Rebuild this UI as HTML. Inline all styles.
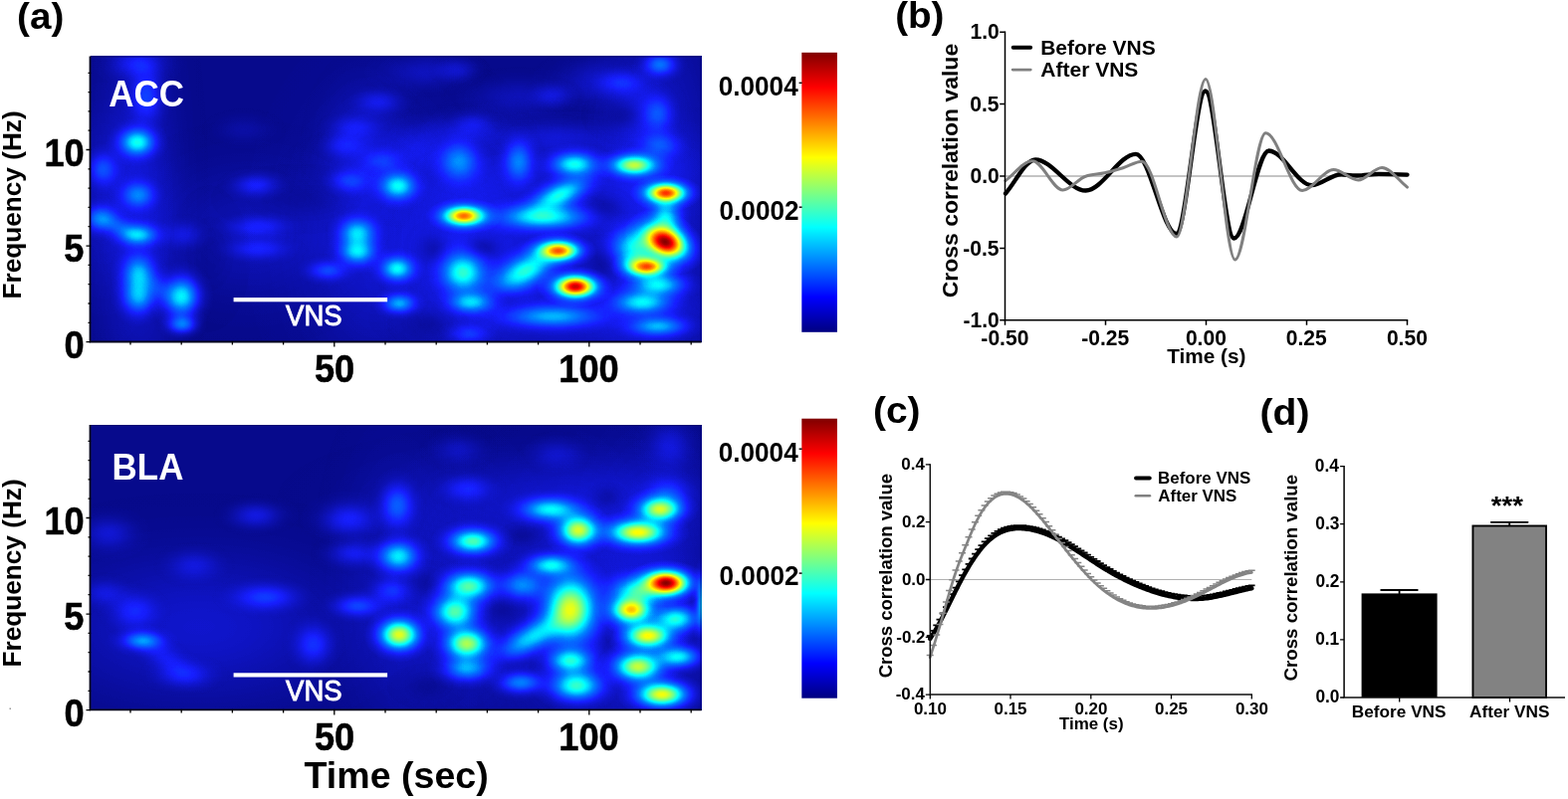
<!DOCTYPE html>
<html lang="en"><head><meta charset="utf-8"><title>Figure</title>
<style>
html,body{margin:0;padding:0;background:#fff;}
body{width:1575px;height:803px;overflow:hidden;}
svg{display:block;font-family:"Liberation Sans", Arial, Helvetica, sans-serif;font-weight:bold;}
</style></head><body>
<svg width="1575" height="803" viewBox="0 0 1575 803">
<defs>
<radialGradient id="gb" cx="0.5" cy="0.5" r="0.5"><stop offset="0.0000" stop-color="#fff" stop-opacity="1.0000"/><stop offset="0.0833" stop-color="#fff" stop-opacity="0.9692"/><stop offset="0.1667" stop-color="#fff" stop-opacity="0.8825"/><stop offset="0.2500" stop-color="#fff" stop-opacity="0.7548"/><stop offset="0.3333" stop-color="#fff" stop-opacity="0.6065"/><stop offset="0.4167" stop-color="#fff" stop-opacity="0.4578"/><stop offset="0.5000" stop-color="#fff" stop-opacity="0.3247"/><stop offset="0.5833" stop-color="#fff" stop-opacity="0.2163"/><stop offset="0.6667" stop-color="#fff" stop-opacity="0.1353"/><stop offset="0.7500" stop-color="#fff" stop-opacity="0.0796"/><stop offset="0.8333" stop-color="#fff" stop-opacity="0.0439"/><stop offset="0.9167" stop-color="#fff" stop-opacity="0.0228"/><stop offset="1.0000" stop-color="#fff" stop-opacity="0.0000"/></radialGradient>
<radialGradient id="gk" cx="0.5" cy="0.5" r="0.5"><stop offset="0.0000" stop-color="#000" stop-opacity="1.0000"/><stop offset="0.0833" stop-color="#000" stop-opacity="0.9692"/><stop offset="0.1667" stop-color="#000" stop-opacity="0.8825"/><stop offset="0.2500" stop-color="#000" stop-opacity="0.7548"/><stop offset="0.3333" stop-color="#000" stop-opacity="0.6065"/><stop offset="0.4167" stop-color="#000" stop-opacity="0.4578"/><stop offset="0.5000" stop-color="#000" stop-opacity="0.3247"/><stop offset="0.5833" stop-color="#000" stop-opacity="0.2163"/><stop offset="0.6667" stop-color="#000" stop-opacity="0.1353"/><stop offset="0.7500" stop-color="#000" stop-opacity="0.0796"/><stop offset="0.8333" stop-color="#000" stop-opacity="0.0439"/><stop offset="0.9167" stop-color="#000" stop-opacity="0.0228"/><stop offset="1.0000" stop-color="#000" stop-opacity="0.0000"/></radialGradient>
<linearGradient id="cbar" x1="0" y1="0" x2="0" y2="1">
<stop offset="0" stop-color="rgb(128,0,0)"/>
<stop offset="0.125" stop-color="rgb(255,0,0)"/>
<stop offset="0.375" stop-color="rgb(255,255,0)"/>
<stop offset="0.625" stop-color="rgb(0,255,255)"/>
<stop offset="0.875" stop-color="rgb(0,0,255)"/>
<stop offset="1" stop-color="rgb(0,0,128)"/>
</linearGradient>

<clipPath id="clip1"><rect x="91.1" y="56.4" width="613.5" height="287.2"/></clipPath>
<filter id="jet1" filterUnits="userSpaceOnUse" x="81.1" y="46.4" width="633.5" height="307.2" color-interpolation-filters="sRGB">
<feComponentTransfer>
<feFuncR type="table" tableValues="0.025 0.09 0 0 0.5 1 1 1 0.5"/>
<feFuncG type="table" tableValues="0.035 0.12 0.5 1 1 1 0.5 0 0"/>
<feFuncB type="table" tableValues="0.52 1 1 1 0.5 0 0 0 0"/>
</feComponentTransfer>
</filter>
<clipPath id="clip2"><rect x="91.1" y="427.0" width="613.5" height="286.4"/></clipPath>
<filter id="jet2" filterUnits="userSpaceOnUse" x="81.1" y="417.0" width="633.5" height="306.4" color-interpolation-filters="sRGB">
<feComponentTransfer>
<feFuncR type="table" tableValues="0.025 0.09 0 0 0.5 1 1 1 0.5"/>
<feFuncG type="table" tableValues="0.035 0.12 0.5 1 1 1 0.5 0 0"/>
<feFuncB type="table" tableValues="0.52 1 1 1 0.5 0 0 0 0"/>
</feComponentTransfer>
</filter>
</defs>
<rect width="1575" height="803" fill="#fff"/>
<text transform="translate(17.12 29.04) scale(1.030 1)" font-size="37.5">(a)</text>
<text transform="translate(899.13 27.61) scale(1.050 1)" font-size="36.8">(b)</text>
<text transform="translate(876.95 425.23) scale(1.060 1)" font-size="36.7">(c)</text>
<text transform="translate(1265.53 426.68) scale(1.060 1)" font-size="36.9">(d)</text>
<g clip-path="url(#clip1)"><g filter="url(#jet1)">
<rect x="71.1" y="36.4" width="653.5" height="327.2" fill="rgb(2,2,2)"/>
<ellipse cx="140" cy="215" rx="78" ry="360" fill="url(#gb)" opacity="0.07"/>
<ellipse cx="105" cy="200" rx="84" ry="180" fill="url(#gb)" opacity="0.04"/>
<ellipse cx="380" cy="235" rx="150" ry="240" fill="url(#gb)" opacity="0.07"/>
<ellipse cx="540" cy="260" rx="240" ry="180" fill="url(#gb)" opacity="0.07"/>
<ellipse cx="660" cy="200" rx="108" ry="360" fill="url(#gb)" opacity="0.08"/>
<ellipse cx="470" cy="250" rx="105" ry="210" fill="url(#gb)" opacity="0.06"/>
<ellipse cx="250" cy="235" rx="180" ry="135" fill="url(#gb)" opacity="0.05"/>
<ellipse cx="560" cy="170" rx="330" ry="84" fill="url(#gb)" opacity="0.05"/>
<ellipse cx="600" cy="320" rx="270" ry="75" fill="url(#gb)" opacity="0.05"/>
<ellipse cx="365" cy="150" rx="75" ry="120" fill="url(#gb)" opacity="0.05"/>
<ellipse cx="430" cy="72" rx="75" ry="30" fill="url(#gb)" opacity="0.05"/>
<ellipse cx="520" cy="98" rx="90" ry="36" fill="url(#gb)" opacity="0.05"/>
<ellipse cx="600" cy="82" rx="75" ry="42" fill="url(#gb)" opacity="0.06"/>
<ellipse cx="640" cy="112" rx="60" ry="54" fill="url(#gb)" opacity="0.06"/>
<ellipse cx="470" cy="132" rx="90" ry="30" fill="url(#gb)" opacity="0.05"/>
<ellipse cx="560" cy="137" rx="90" ry="30" fill="url(#gb)" opacity="0.05"/>
<ellipse cx="420" cy="150" rx="54" ry="42" fill="url(#gb)" opacity="0.05"/>
<ellipse cx="485" cy="249" rx="36" ry="24" fill="url(#gk)" opacity="0.6"/>
<ellipse cx="605" cy="210" rx="36" ry="24" fill="url(#gk)" opacity="0.55"/>
<ellipse cx="605" cy="265" rx="30" ry="30" fill="url(#gk)" opacity="0.55"/>
<ellipse cx="435" cy="250" rx="30" ry="30" fill="url(#gk)" opacity="0.5"/>
<ellipse cx="625" cy="116" rx="42" ry="30" fill="url(#gk)" opacity="0.6"/>
<ellipse cx="507" cy="297" rx="36" ry="24" fill="url(#gk)" opacity="0.5"/>
<ellipse cx="430" cy="326" rx="42" ry="24" fill="url(#gk)" opacity="0.5"/>
<ellipse cx="300" cy="200" rx="90" ry="36" fill="url(#gk)" opacity="0.4"/>
<ellipse cx="210" cy="260" rx="42" ry="75" fill="url(#gk)" opacity="0.4"/>
<ellipse cx="139" cy="64" rx="48" ry="27" fill="url(#gb)" opacity="0.1"/>
<ellipse cx="147" cy="96" rx="30" ry="48" fill="url(#gb)" opacity="0.13"/>
<ellipse cx="138" cy="143" rx="33" ry="25.5" fill="url(#gb)" opacity="0.35"/>
<ellipse cx="103" cy="170" rx="27" ry="30" fill="url(#gb)" opacity="0.14"/>
<ellipse cx="139" cy="196" rx="30" ry="24" fill="url(#gb)" opacity="0.19"/>
<ellipse cx="101" cy="220" rx="30" ry="24" fill="url(#gb)" opacity="0.2"/>
<ellipse cx="120" cy="228" rx="42" ry="18" fill="url(#gb)" opacity="0.1" transform="rotate(25 120 228)"/>
<ellipse cx="139" cy="236" rx="36" ry="19.5" fill="url(#gb)" opacity="0.27"/>
<ellipse cx="139" cy="275" rx="30" ry="36" fill="url(#gb)" opacity="0.25"/>
<ellipse cx="139" cy="298" rx="30" ry="33" fill="url(#gb)" opacity="0.25"/>
<ellipse cx="183" cy="298" rx="33" ry="37.5" fill="url(#gb)" opacity="0.35"/>
<ellipse cx="183" cy="326" rx="27" ry="18" fill="url(#gb)" opacity="0.22"/>
<ellipse cx="160" cy="290" rx="42" ry="24" fill="url(#gb)" opacity="0.08" transform="rotate(40 160 290)"/>
<ellipse cx="185" cy="236" rx="36" ry="24" fill="url(#gb)" opacity="0.06"/>
<ellipse cx="257" cy="186" rx="42" ry="21" fill="url(#gb)" opacity="0.1"/>
<ellipse cx="245" cy="130" rx="54" ry="27" fill="url(#gb)" opacity="0.03"/>
<ellipse cx="259" cy="228" rx="54" ry="19.5" fill="url(#gb)" opacity="0.085"/>
<ellipse cx="259" cy="250" rx="54" ry="19.5" fill="url(#gb)" opacity="0.085"/>
<ellipse cx="329" cy="272" rx="36" ry="18" fill="url(#gb)" opacity="0.13"/>
<ellipse cx="381" cy="102" rx="42" ry="21" fill="url(#gb)" opacity="0.07"/>
<ellipse cx="355" cy="128" rx="42" ry="21" fill="url(#gb)" opacity="0.06"/>
<ellipse cx="345" cy="146" rx="36" ry="21" fill="url(#gb)" opacity="0.07"/>
<ellipse cx="385" cy="162" rx="36" ry="21" fill="url(#gb)" opacity="0.08"/>
<ellipse cx="351" cy="182" rx="36" ry="21" fill="url(#gb)" opacity="0.1"/>
<ellipse cx="359" cy="234" rx="33" ry="27" fill="url(#gb)" opacity="0.29"/>
<ellipse cx="359" cy="253" rx="33" ry="24" fill="url(#gb)" opacity="0.3"/>
<ellipse cx="400" cy="187" rx="33" ry="25.5" fill="url(#gb)" opacity="0.33"/>
<ellipse cx="399" cy="270" rx="30" ry="22.5" fill="url(#gb)" opacity="0.33"/>
<ellipse cx="401" cy="305" rx="30" ry="18" fill="url(#gb)" opacity="0.25"/>
<ellipse cx="663" cy="65" rx="30" ry="21" fill="url(#gb)" opacity="0.2"/>
<ellipse cx="625" cy="83" rx="42" ry="21" fill="url(#gb)" opacity="0.08"/>
<ellipse cx="661" cy="114" rx="27" ry="33" fill="url(#gb)" opacity="0.12"/>
<ellipse cx="663" cy="146" rx="36" ry="24" fill="url(#gb)" opacity="0.12"/>
<ellipse cx="637" cy="166" rx="42" ry="19.5" fill="url(#gb)" opacity="0.52"/>
<ellipse cx="577" cy="165" rx="42" ry="22.5" fill="url(#gb)" opacity="0.35"/>
<ellipse cx="521" cy="162" rx="27" ry="39" fill="url(#gb)" opacity="0.2"/>
<ellipse cx="461" cy="162" rx="36" ry="36" fill="url(#gb)" opacity="0.21"/>
<ellipse cx="461" cy="70" rx="36" ry="21" fill="url(#gb)" opacity="0.05"/>
<ellipse cx="555" cy="96" rx="36" ry="21" fill="url(#gb)" opacity="0.06"/>
<ellipse cx="475" cy="124" rx="36" ry="21" fill="url(#gb)" opacity="0.05"/>
<ellipse cx="562" cy="196" rx="57" ry="24" fill="url(#gb)" opacity="0.35" transform="rotate(-25 562 196)"/>
<ellipse cx="669" cy="194" rx="37.5" ry="18.9" fill="url(#gb)" opacity="0.81"/>
<ellipse cx="466" cy="217" rx="39" ry="18.9" fill="url(#gb)" opacity="0.75"/>
<ellipse cx="547" cy="218" rx="81" ry="24" fill="url(#gb)" opacity="0.35"/>
<ellipse cx="561" cy="252" rx="39" ry="18.9" fill="url(#gb)" opacity="0.77"/>
<ellipse cx="528" cy="272" rx="66" ry="30" fill="url(#gb)" opacity="0.36" transform="rotate(-30 528 272)"/>
<ellipse cx="578" cy="288" rx="39" ry="21" fill="url(#gb)" opacity="0.93"/>
<ellipse cx="668" cy="243" rx="43.5" ry="30" fill="url(#gb)" opacity="1.0" transform="rotate(25 668 243)"/>
<ellipse cx="650" cy="268" rx="37.5" ry="18" fill="url(#gb)" opacity="0.77"/>
<ellipse cx="669" cy="218" rx="27" ry="36" fill="url(#gb)" opacity="0.27"/>
<ellipse cx="637" cy="248" rx="42" ry="36" fill="url(#gb)" opacity="0.3"/>
<ellipse cx="640" cy="264" rx="30" ry="24" fill="url(#gb)" opacity="0.15"/>
<ellipse cx="661" cy="286" rx="48" ry="21" fill="url(#gb)" opacity="0.31"/>
<ellipse cx="645" cy="304" rx="51" ry="21" fill="url(#gb)" opacity="0.3"/>
<ellipse cx="661" cy="328" rx="51" ry="18" fill="url(#gb)" opacity="0.24"/>
<ellipse cx="465" cy="274" rx="39" ry="36" fill="url(#gb)" opacity="0.35"/>
<ellipse cx="473" cy="304" rx="39" ry="19.5" fill="url(#gb)" opacity="0.27"/>
<ellipse cx="555" cy="318" rx="84" ry="21" fill="url(#gb)" opacity="0.24"/>
<ellipse cx="471" cy="336" rx="36" ry="18" fill="url(#gb)" opacity="0.1"/>
</g></g>
<rect x="91.1" y="56.4" width="613.5" height="1.2" fill="#00006a" opacity="0.7"/>
<rect x="703.4" y="56.4" width="1.2" height="287.2" fill="#00006a" opacity="0.6"/>
<path d="M90.5 56.4 V343.5 H704.6" fill="none" stroke="#00001c" stroke-width="1.8"/>
<path d="M86.5 343.6H91.1M88.5 324.3H91.1M88.5 305.0H91.1M88.5 285.7H91.1M88.5 266.4H91.1M86.5 247.1H91.1M88.5 227.7H91.1M88.5 208.4H91.1M88.5 189.1H91.1M88.5 169.8H91.1M86.5 150.5H91.1M88.5 131.2H91.1M88.5 111.9H91.1M88.5 92.6H91.1M88.5 73.3H91.1" stroke="#000" stroke-width="1.3" fill="none"/>
<path d="M131.0 343.1V346.6M182.2 343.1V346.6M233.4 343.1V346.6M284.6 343.1V346.6M335.8 343.1V348.6M387.0 343.1V346.6M438.2 343.1V346.6M489.4 343.1V346.6M540.6 343.1V346.6M591.8 343.1V348.6M643.0 343.1V346.6M694.2 343.1V346.6" stroke="#000" stroke-width="1.3" fill="none"/>
<text stroke="#000" stroke-width="0.55" transform="translate(64.6 359.79) scale(0.935 1)" font-size="38.7">0</text>
<text stroke="#000" stroke-width="0.55" transform="translate(64.24 263.04) scale(0.935 1)" font-size="38.7">5</text>
<text stroke="#000" stroke-width="0.55" transform="translate(44.46 166.69) scale(0.935 1)" font-size="38.7">10</text>
<text stroke="#000" stroke-width="0.55" transform="translate(315.89 383.79) scale(0.935 1)" font-size="38.7">50</text>
<text stroke="#000" stroke-width="0.55" transform="translate(561.31 383.79) scale(0.935 1)" font-size="38.7">100</text>
<text transform="translate(21.45 300.54) rotate(-90) scale(1.000 1)" font-size="26.2">Frequency (Hz)</text>
<text transform="translate(109.29 106.52) scale(0.955 1)" font-size="36.6" fill="#fff">ACC</text>
<rect x="234.6" y="299.1" width="154.5" height="4.2" fill="#fff"/>
<text stroke="#fff" stroke-width="0.9" transform="translate(287.12 327.01) scale(0.950 1)" font-size="29" fill="#fff" font-weight="normal">VNS</text>
<rect x="805.3" y="52.8" width="35.6" height="281" fill="url(#cbar)"/>
<rect x="802.6" y="82.6" width="3" height="1.4" fill="#000"/>
<text transform="translate(721.66 95.61) scale(0.935 1)" font-size="28">0.0004</text>
<rect x="802.6" y="207.5" width="3" height="1.4" fill="#000"/>
<text transform="translate(722.54 220.51) scale(0.935 1)" font-size="28">0.0002</text>
<g clip-path="url(#clip2)"><g filter="url(#jet2)">
<rect x="71.1" y="407.0" width="653.5" height="326.4" fill="rgb(2,2,2)"/>
<ellipse cx="400" cy="600" rx="105" ry="270" fill="url(#gb)" opacity="0.05"/>
<ellipse cx="470" cy="610" rx="108" ry="210" fill="url(#gb)" opacity="0.06"/>
<ellipse cx="570" cy="610" rx="135" ry="240" fill="url(#gb)" opacity="0.07"/>
<ellipse cx="655" cy="610" rx="120" ry="270" fill="url(#gb)" opacity="0.08"/>
<ellipse cx="200" cy="630" rx="300" ry="150" fill="url(#gb)" opacity="0.07"/>
<ellipse cx="560" cy="500" rx="330" ry="90" fill="url(#gb)" opacity="0.05"/>
<ellipse cx="525" cy="538" rx="36" ry="21" fill="url(#gk)" opacity="0.6"/>
<ellipse cx="505" cy="614" rx="36" ry="24" fill="url(#gk)" opacity="0.55"/>
<ellipse cx="429" cy="586" rx="30" ry="24" fill="url(#gk)" opacity="0.5"/>
<ellipse cx="611" cy="642" rx="24" ry="30" fill="url(#gk)" opacity="0.5"/>
<ellipse cx="430" cy="690" rx="42" ry="24" fill="url(#gk)" opacity="0.5"/>
<ellipse cx="610" cy="500" rx="30" ry="24" fill="url(#gk)" opacity="0.5"/>
<ellipse cx="510" cy="665" rx="30" ry="21" fill="url(#gk)" opacity="0.45"/>
<ellipse cx="257" cy="518" rx="47.04" ry="23.52" fill="url(#gb)" opacity="0.09"/>
<ellipse cx="349" cy="522" rx="50.4" ry="30.24" fill="url(#gb)" opacity="0.11"/>
<ellipse cx="109" cy="536" rx="47.04" ry="30.24" fill="url(#gb)" opacity="0.07"/>
<ellipse cx="195" cy="568" rx="47.04" ry="26.88" fill="url(#gb)" opacity="0.06"/>
<ellipse cx="355" cy="556" rx="47.04" ry="23.52" fill="url(#gb)" opacity="0.09"/>
<ellipse cx="143" cy="644" rx="36.96" ry="16.8" fill="url(#gb)" opacity="0.22"/>
<ellipse cx="135" cy="614" rx="40.32" ry="30.24" fill="url(#gb)" opacity="0.09"/>
<ellipse cx="267" cy="600" rx="57.12" ry="23.52" fill="url(#gb)" opacity="0.12"/>
<ellipse cx="359" cy="609" rx="43.68" ry="20.16" fill="url(#gb)" opacity="0.14"/>
<ellipse cx="315" cy="648" rx="33.6" ry="36.96" fill="url(#gb)" opacity="0.12"/>
<ellipse cx="185" cy="678" rx="50.4" ry="23.52" fill="url(#gb)" opacity="0.08"/>
<ellipse cx="165" cy="660" rx="63.84" ry="23.52" fill="url(#gb)" opacity="0.06" transform="rotate(35 165 660)"/>
<ellipse cx="105" cy="596" rx="40.32" ry="23.52" fill="url(#gb)" opacity="0.06"/>
<ellipse cx="393" cy="594" rx="33.6" ry="23.52" fill="url(#gb)" opacity="0.1"/>
<ellipse cx="399" cy="508" rx="30.24" ry="40.32" fill="url(#gb)" opacity="0.17"/>
<ellipse cx="400" cy="559" rx="36.96" ry="28.56" fill="url(#gb)" opacity="0.33"/>
<ellipse cx="401" cy="638" rx="36.96" ry="28.56" fill="url(#gb)" opacity="0.58"/>
<ellipse cx="475" cy="544" rx="43.68" ry="23.52" fill="url(#gb)" opacity="0.42"/>
<ellipse cx="469" cy="491" rx="43.68" ry="23.52" fill="url(#gb)" opacity="0.09"/>
<ellipse cx="461" cy="452" rx="47.04" ry="26.88" fill="url(#gb)" opacity="0.05"/>
<ellipse cx="471" cy="589" rx="45.36" ry="26.88" fill="url(#gb)" opacity="0.42"/>
<ellipse cx="457" cy="615" rx="40.32" ry="31.92" fill="url(#gb)" opacity="0.42"/>
<ellipse cx="469" cy="647" rx="40.32" ry="28.56" fill="url(#gb)" opacity="0.52"/>
<ellipse cx="469" cy="672" rx="43.68" ry="23.52" fill="url(#gb)" opacity="0.26"/>
<ellipse cx="559" cy="456" rx="47.04" ry="26.88" fill="url(#gb)" opacity="0.05"/>
<ellipse cx="553" cy="512" rx="53.76" ry="21.84" fill="url(#gb)" opacity="0.33"/>
<ellipse cx="581" cy="533" rx="36.96" ry="28.56" fill="url(#gb)" opacity="0.56"/>
<ellipse cx="553" cy="568" rx="43.68" ry="20.16" fill="url(#gb)" opacity="0.33"/>
<ellipse cx="525" cy="588" rx="40.32" ry="26.88" fill="url(#gb)" opacity="0.22"/>
<ellipse cx="573" cy="612" rx="47.04" ry="60.48" fill="url(#gb)" opacity="0.56"/>
<ellipse cx="535" cy="640" rx="73.92" ry="26.88" fill="url(#gb)" opacity="0.3" transform="rotate(-30 535 640)"/>
<ellipse cx="573" cy="664" rx="40.32" ry="23.52" fill="url(#gb)" opacity="0.36"/>
<ellipse cx="579" cy="689" rx="47.04" ry="28.56" fill="url(#gb)" opacity="0.4"/>
<ellipse cx="523" cy="686" rx="40.32" ry="20.16" fill="url(#gb)" opacity="0.22"/>
<ellipse cx="673" cy="448" rx="40.32" ry="43.68" fill="url(#gb)" opacity="0.07"/>
<ellipse cx="671" cy="496" rx="40.32" ry="30.24" fill="url(#gb)" opacity="0.12"/>
<ellipse cx="663" cy="512" rx="40.32" ry="23.52" fill="url(#gb)" opacity="0.55"/>
<ellipse cx="641" cy="535" rx="53.76" ry="23.52" fill="url(#gb)" opacity="0.6"/>
<ellipse cx="669" cy="586" rx="42" ry="23.52" fill="url(#gb)" opacity="1.0"/>
<ellipse cx="640" cy="594" rx="47.04" ry="26.88" fill="url(#gb)" opacity="0.33"/>
<ellipse cx="634" cy="613" rx="36.96" ry="25.2" fill="url(#gb)" opacity="0.65"/>
<ellipse cx="651" cy="639" rx="43.68" ry="23.52" fill="url(#gb)" opacity="0.6"/>
<ellipse cx="679" cy="622" rx="40.32" ry="23.52" fill="url(#gb)" opacity="0.36"/>
<ellipse cx="681" cy="660" rx="40.32" ry="20.16" fill="url(#gb)" opacity="0.34"/>
<ellipse cx="641" cy="670" rx="43.68" ry="26.88" fill="url(#gb)" opacity="0.54"/>
<ellipse cx="665" cy="698" rx="47.04" ry="23.52" fill="url(#gb)" opacity="0.6"/>
<ellipse cx="706" cy="606" rx="11.76" ry="50.4" fill="url(#gb)" opacity="0.33"/>
</g></g>
<rect x="91.1" y="427.0" width="613.5" height="1.2" fill="#00006a" opacity="0.7"/>
<rect x="703.4" y="427.0" width="1.2" height="286.4" fill="#00006a" opacity="0.6"/>
<path d="M90.5 427.0 V713.3 H704.6" fill="none" stroke="#00001c" stroke-width="1.8"/>
<path d="M86.5 713.6H91.1M88.5 694.3H91.1M88.5 675.0H91.1M88.5 655.7H91.1M88.5 636.4H91.1M86.5 617.1H91.1M88.5 597.7H91.1M88.5 578.4H91.1M88.5 559.1H91.1M88.5 539.8H91.1M86.5 520.5H91.1M88.5 501.2H91.1M88.5 481.9H91.1M88.5 462.6H91.1M88.5 443.3H91.1" stroke="#000" stroke-width="1.3" fill="none"/>
<path d="M131.0 712.9V716.4M182.2 712.9V716.4M233.4 712.9V716.4M284.6 712.9V716.4M335.8 712.9V718.4M387.0 712.9V716.4M438.2 712.9V716.4M489.4 712.9V716.4M540.6 712.9V716.4M591.8 712.9V718.4M643.0 712.9V716.4M694.2 712.9V716.4" stroke="#000" stroke-width="1.3" fill="none"/>
<text stroke="#000" stroke-width="0.55" transform="translate(64.6 729.79) scale(0.935 1)" font-size="38.7">0</text>
<text stroke="#000" stroke-width="0.55" transform="translate(64.24 633.04) scale(0.935 1)" font-size="38.7">5</text>
<text stroke="#000" stroke-width="0.55" transform="translate(44.46 536.69) scale(0.935 1)" font-size="38.7">10</text>
<text stroke="#000" stroke-width="0.55" transform="translate(315.89 753.79) scale(0.935 1)" font-size="38.7">50</text>
<text stroke="#000" stroke-width="0.55" transform="translate(561.31 753.79) scale(0.935 1)" font-size="38.7">100</text>
<text transform="translate(21.45 670.54) rotate(-90) scale(1.000 1)" font-size="26.2">Frequency (Hz)</text>
<text transform="translate(112.61 481.52) scale(0.955 1)" font-size="36.6" fill="#fff">BLA</text>
<rect x="234.6" y="676.3" width="154.5" height="4.2" fill="#fff"/>
<text stroke="#fff" stroke-width="0.9" transform="translate(287.12 704.21) scale(0.950 1)" font-size="29" fill="#fff" font-weight="normal">VNS</text>
<rect x="805.3" y="420.7" width="35.6" height="281.0" fill="url(#cbar)"/>
<rect x="802.6" y="450.5" width="3" height="1.4" fill="#000"/>
<text transform="translate(721.66 463.51) scale(0.935 1)" font-size="28">0.0004</text>
<rect x="802.6" y="575.4" width="3" height="1.4" fill="#000"/>
<text transform="translate(722.54 588.41) scale(0.935 1)" font-size="28">0.0002</text>
<text x="305.52" y="792.11" font-size="37.6">Time (sec)</text>
<rect x="9.5" y="711.5" width="1.5" height="1.5" fill="#999"/>
<path d="M1009.5 177.0H1413.5" stroke="#b0b0b0" stroke-width="1.3" fill="none"/>
<path d="M1010.0 194.5C1020.0 183.2 1030.0 160.5 1040.0 160.5C1056.8 160.5 1073.7 191.5 1090.5 191.5C1107.3 191.5 1124.2 154.8 1141.0 154.8C1154.5 154.8 1168.1 234.8 1181.6 234.8C1191.3 234.8 1201.1 91.5 1210.8 91.5C1220.4 91.5 1229.9 239.5 1239.5 239.5C1251.2 239.5 1262.8 151.5 1274.5 151.5C1288.9 151.5 1303.2 186.2 1317.6 186.2C1327.7 186.2 1337.9 174.5 1348.0 175.3C1353.0 175.7 1358.0 176.5 1363.0 176.5C1370.3 176.5 1377.7 174.8 1385.0 174.8C1394.5 174.8 1404.0 175.1 1413.5 175.6" stroke="#000" stroke-width="4.3" fill="none" stroke-linecap="round" stroke-linejoin="round"/>
<path d="M1010.0 181.6C1019.0 175.0 1028.0 161.8 1037.0 161.8C1047.2 161.8 1057.4 191.0 1067.6 191.0C1075.2 191.0 1082.9 179.5 1090.5 177.2C1096.8 175.3 1103.2 175.2 1109.5 173.8C1115.9 172.4 1122.2 170.4 1128.6 168.5C1134.7 166.7 1140.9 162.2 1147.0 162.2C1158.7 162.2 1170.3 238.0 1182.0 238.0C1191.7 238.0 1201.3 79.5 1211.0 79.5C1220.8 79.5 1230.7 261.0 1240.5 261.0C1250.8 261.0 1261.0 133.8 1271.3 133.8C1283.6 133.8 1295.8 191.4 1308.1 191.4C1318.6 191.4 1329.0 170.6 1339.5 170.6C1347.8 170.6 1356.0 181.0 1364.3 181.0C1372.2 181.0 1380.2 168.5 1388.1 168.5C1396.6 168.5 1405.0 181.6 1413.5 188.1" stroke="#808080" stroke-width="3" fill="none" stroke-linecap="round" stroke-linejoin="round"/>
<path d="M1009.5 31.49999999999999V321.8H1414.2" stroke="#000" stroke-width="1.5" fill="none"/>
<path d="M1004.2 32.2H1009.5M1004.2 104.6H1009.5M1004.2 177.0H1009.5M1004.2 249.4H1009.5M1004.2 321.8H1009.5M1009.5 321.8V326.8M1110.5 321.8V326.8M1211.5 321.8V326.8M1312.5 321.8V326.8M1413.5 321.8V326.8" stroke="#000" stroke-width="1.5" fill="none"/>
<text transform="translate(974.43 39.31) scale(0.990 1)" font-size="21.3">1.0</text>
<text transform="translate(974.22 111.71) scale(0.990 1)" font-size="21.3">0.5</text>
<text transform="translate(974.43 184.11) scale(0.990 1)" font-size="21.3">0.0</text>
<text transform="translate(967.19 256.51) scale(0.990 1)" font-size="21.3">-0.5</text>
<text transform="translate(967.4 328.91) scale(0.990 1)" font-size="21.3">-1.0</text>
<text transform="translate(985.36 346.71) scale(0.990 1)" font-size="21.3">-0.50</text>
<text transform="translate(1086.26 346.71) scale(0.990 1)" font-size="21.3">-0.25</text>
<text transform="translate(1190.88 346.71) scale(0.990 1)" font-size="21.3">0.00</text>
<text transform="translate(1291.77 346.71) scale(0.990 1)" font-size="21.3">0.25</text>
<text transform="translate(1392.88 346.71) scale(0.990 1)" font-size="21.3">0.50</text>
<text transform="translate(1172.19 364.93) scale(0.990 1)" font-size="21">Time (s)</text>
<text transform="translate(961.9 299.36) rotate(-90) scale(1.045 1)" font-size="22">Cross correlation value</text>
<path d="M1017.7 47.7H1035.1" stroke="#000" stroke-width="4" stroke-linecap="round" fill="none"/>
<path d="M1017.2 70.1H1035.2" stroke="#808080" stroke-width="2.9" stroke-linecap="round" fill="none"/>
<text x="1045.2" y="54.99" font-size="21">Before VNS</text>
<text x="1045.34" y="77.44" font-size="21">After VNS</text>
<path d="M934.3 582.5H1257.3" stroke="#b0b0b0" stroke-width="1.2" fill="none"/>
<path d="M934.2 642.0V639.0M930.8 639.0H937.6M937.4 636.9V633.9M934.0 633.9H940.8M940.7 631.4V628.4M937.3 628.4H944.1M943.9 625.6V622.6M940.5 622.6H947.3M947.1 619.5V616.5M943.7 616.5H950.5M950.4 613.2V610.2M947.0 610.2H953.8M953.6 606.7V603.7M950.2 603.7H957.0M956.8 600.1V597.1M953.4 597.1H960.2M960.0 593.6V590.6M956.6 590.6H963.4M963.3 587.3V584.3M959.9 584.3H966.7M966.5 581.1V578.1M963.1 578.1H969.9M969.7 575.3V572.3M966.3 572.3H973.1M973.0 569.8V566.8M969.6 566.8H976.4M976.2 564.5V561.5M972.8 561.5H979.6M979.4 559.7V556.7M976.0 556.7H982.8M982.7 555.2V552.2M979.3 552.2H986.1M985.9 551.1V548.1M982.5 548.1H989.3M989.1 547.4V544.4M985.7 544.4H992.5M992.3 544.1V541.1M988.9 541.1H995.7M995.6 541.3V538.3M992.2 538.3H999.0M998.8 538.8V535.8M995.4 535.8H1002.2M1002.0 536.8V533.8M998.6 533.8H1005.4M1005.3 535.1V532.1M1001.9 532.1H1008.7M1008.5 533.7V530.7M1005.1 530.7H1011.9M1011.7 532.6V529.6M1008.3 529.6H1015.1M1015.0 531.9V528.9M1011.6 528.9H1018.4M1018.2 531.4V528.4M1014.8 528.4H1021.6M1021.4 531.1V528.1M1018.0 528.1H1024.8M1024.6 531.1V528.1M1021.2 528.1H1028.0M1027.9 531.2V528.2M1024.5 528.2H1031.3M1031.1 531.6V528.6M1027.7 528.6H1034.5M1034.3 532.1V529.1M1030.9 529.1H1037.7M1037.6 532.7V529.7M1034.2 529.7H1041.0M1040.8 533.5V530.5M1037.4 530.5H1044.2M1044.0 534.5V531.5M1040.6 531.5H1047.4M1047.3 535.5V532.5M1043.9 532.5H1050.7M1050.5 536.7V533.7M1047.1 533.7H1053.9M1053.7 538.0V535.0M1050.3 535.0H1057.1M1056.9 539.4V536.4M1053.5 536.4H1060.3M1060.2 541.0V538.0M1056.8 538.0H1063.6M1063.4 542.6V539.6M1060.0 539.6H1066.8M1066.6 544.4V541.4M1063.2 541.4H1070.0M1069.9 546.2V543.2M1066.5 543.2H1073.3M1073.1 548.2V545.2M1069.7 545.2H1076.5M1076.3 550.2V547.2M1072.9 547.2H1079.7M1079.6 552.2V549.2M1076.2 549.2H1083.0M1082.8 554.3V551.3M1079.4 551.3H1086.2M1086.0 556.4V553.4M1082.6 553.4H1089.4M1089.2 558.5V555.5M1085.8 555.5H1092.6M1092.5 560.7V557.7M1089.1 557.7H1095.9M1095.7 562.8V559.8M1092.3 559.8H1099.1M1098.9 564.9V561.9M1095.5 561.9H1102.3M1102.2 567.0V564.0M1098.8 564.0H1105.6M1105.4 569.1V566.1M1102.0 566.1H1108.8M1108.6 571.1V568.1M1105.2 568.1H1112.0M1111.9 573.1V570.1M1108.5 570.1H1115.3M1115.1 575.0V572.0M1111.7 572.0H1118.5M1118.3 576.8V573.8M1114.9 573.8H1121.7M1121.5 578.6V575.6M1118.1 575.6H1124.9M1124.8 580.3V577.3M1121.4 577.3H1128.2M1128.0 582.0V579.0M1124.6 579.0H1131.4M1131.2 583.6V580.6M1127.8 580.6H1134.6M1134.5 585.1V582.1M1131.1 582.1H1137.9M1137.7 586.6V583.6M1134.3 583.6H1141.1M1140.9 588.0V585.0M1137.5 585.0H1144.3M1144.2 589.4V586.4M1140.8 586.4H1147.6M1147.4 590.7V587.7M1144.0 587.7H1150.8M1150.6 591.9V588.9M1147.2 588.9H1154.0M1153.8 593.1V590.1M1150.4 590.1H1157.2M1157.1 594.3V591.3M1153.7 591.3H1160.5M1160.3 595.3V592.3M1156.9 592.3H1163.7M1163.5 596.3V593.3M1160.1 593.3H1166.9M1166.8 597.2V594.2M1163.4 594.2H1170.2M1170.0 598.1V595.1M1166.6 595.1H1173.4M1173.2 598.9V595.9M1169.8 595.9H1176.6M1176.5 599.6V596.6M1173.1 596.6H1179.9M1179.7 600.2V597.2M1176.3 597.2H1183.1M1182.9 600.7V597.7M1179.5 597.7H1186.3M1186.1 601.1V598.1M1182.7 598.1H1189.5M1189.4 601.5V598.5M1186.0 598.5H1192.8M1192.6 601.8V598.8M1189.2 598.8H1196.0M1195.8 601.9V598.9M1192.4 598.9H1199.2M1199.1 602.0V599.0M1195.7 599.0H1202.5M1202.3 602.0V599.0M1198.9 599.0H1205.7M1205.5 601.8V598.8M1202.1 598.8H1208.9M1208.8 601.6V598.6M1205.4 598.6H1212.2M1212.0 601.3V598.3M1208.6 598.3H1215.4M1215.2 600.8V597.8M1211.8 597.8H1218.6M1218.4 600.3V597.3M1215.0 597.3H1221.8M1221.7 599.7V596.7M1218.3 596.7H1225.1M1224.9 599.0V596.0M1221.5 596.0H1228.3M1228.1 598.3V595.3M1224.7 595.3H1231.5M1231.4 597.5V594.5M1228.0 594.5H1234.8M1234.6 596.7V593.7M1231.2 593.7H1238.0M1237.8 595.9V592.9M1234.4 592.9H1241.2M1241.1 595.0V592.0M1237.7 592.0H1244.5M1244.3 594.2V591.2M1240.9 591.2H1247.7M1247.5 593.4V590.4M1244.1 590.4H1250.9M1250.7 592.7V589.7M1247.3 589.7H1254.1M1254.0 592.0V589.0M1250.6 589.0H1257.4M1257.2 591.3V588.3M1253.8 588.3H1260.6" stroke="#000" stroke-width="1.8" fill="none"/><path d="M934.2 642.0 L935.8 639.5 L937.4 636.9 L939.0 634.3 L940.6 631.5 L942.2 628.7 L943.8 625.8 L945.4 622.8 L947.0 619.7 L948.6 616.6 L950.2 613.5 L951.8 610.3 L953.4 607.0 L955.0 603.8 L956.6 600.6 L958.2 597.3 L959.8 594.1 L961.4 590.9 L963.0 587.8 L964.6 584.7 L966.2 581.7 L967.8 578.8 L969.4 575.9 L971.0 573.1 L972.6 570.4 L974.2 567.7 L975.8 565.1 L977.4 562.7 L979.0 560.3 L980.6 558.0 L982.2 555.8 L983.8 553.7 L985.4 551.7 L987.0 549.7 L988.6 547.9 L990.2 546.2 L991.8 544.6 L993.4 543.1 L995.0 541.8 L996.6 540.5 L998.2 539.3 L999.8 538.2 L1001.4 537.2 L1003.0 536.2 L1004.6 535.4 L1006.2 534.6 L1007.8 534.0 L1009.4 533.4 L1011.0 532.8 L1012.6 532.4 L1014.2 532.0 L1015.8 531.7 L1017.4 531.5 L1019.0 531.3 L1020.6 531.1 L1022.2 531.1 L1023.8 531.1 L1025.4 531.1 L1027.0 531.2 L1028.6 531.3 L1030.2 531.5 L1031.8 531.7 L1033.4 531.9 L1035.0 532.2 L1036.6 532.5 L1038.2 532.9 L1039.8 533.3 L1041.4 533.7 L1043.0 534.2 L1044.6 534.6 L1046.2 535.2 L1047.8 535.7 L1049.4 536.3 L1051.0 536.9 L1052.6 537.5 L1054.2 538.2 L1055.8 538.9 L1057.4 539.7 L1059.0 540.4 L1060.6 541.2 L1062.2 542.0 L1063.8 542.9 L1065.4 543.7 L1067.0 544.6 L1068.6 545.5 L1070.2 546.4 L1071.8 547.4 L1073.4 548.4 L1075.0 549.3 L1076.6 550.3 L1078.2 551.3 L1079.8 552.3 L1081.4 553.4 L1083.0 554.4 L1084.6 555.5 L1086.2 556.5 L1087.8 557.6 L1089.4 558.6 L1091.0 559.7 L1092.6 560.7 L1094.2 561.8 L1095.8 562.9 L1097.4 563.9 L1099.0 565.0 L1100.6 566.0 L1102.2 567.1 L1103.8 568.1 L1105.4 569.1 L1107.0 570.1 L1108.6 571.1 L1110.2 572.1 L1111.8 573.0 L1113.4 574.0 L1115.0 574.9 L1116.6 575.9 L1118.2 576.8 L1119.8 577.7 L1121.4 578.5 L1123.0 579.4 L1124.6 580.2 L1126.2 581.1 L1127.8 581.9 L1129.4 582.7 L1131.0 583.5 L1132.6 584.2 L1134.2 585.0 L1135.8 585.7 L1137.4 586.5 L1139.0 587.2 L1140.6 587.9 L1142.2 588.6 L1143.8 589.2 L1145.4 589.9 L1147.0 590.5 L1148.6 591.2 L1150.2 591.8 L1151.8 592.4 L1153.4 593.0 L1155.0 593.5 L1156.6 594.1 L1158.2 594.6 L1159.8 595.2 L1161.4 595.7 L1163.0 596.1 L1164.6 596.6 L1166.2 597.1 L1167.8 597.5 L1169.4 597.9 L1171.0 598.3 L1172.6 598.7 L1174.2 599.1 L1175.8 599.4 L1177.4 599.7 L1179.0 600.0 L1180.6 600.3 L1182.2 600.6 L1183.8 600.8 L1185.4 601.0 L1187.0 601.2 L1188.6 601.4 L1190.2 601.6 L1191.8 601.7 L1193.4 601.8 L1195.0 601.9 L1196.6 602.0 L1198.2 602.0 L1199.8 602.0 L1201.4 602.0 L1203.0 602.0 L1204.6 601.9 L1206.2 601.8 L1207.8 601.7 L1209.4 601.5 L1211.0 601.4 L1212.6 601.2 L1214.2 601.0 L1215.8 600.7 L1217.4 600.5 L1219.0 600.2 L1220.6 599.9 L1222.2 599.6 L1223.8 599.2 L1225.4 598.9 L1227.0 598.5 L1228.6 598.1 L1230.2 597.8 L1231.8 597.4 L1233.4 597.0 L1235.0 596.6 L1236.6 596.2 L1238.2 595.8 L1239.8 595.4 L1241.4 595.0 L1243.0 594.6 L1244.6 594.2 L1246.2 593.8 L1247.8 593.4 L1249.4 593.0 L1251.0 592.6 L1252.6 592.3 L1254.2 591.9 L1255.8 591.6 L1257.4 591.3" stroke="#000" stroke-width="4.4" fill="none" stroke-linecap="round" stroke-linejoin="round"/>
<path d="M934.2 660.7V658.6M930.7 658.6H937.7M937.4 650.6V648.5M933.9 648.5H940.9M940.7 640.2V638.1M937.2 638.1H944.2M943.9 629.5V627.4M940.4 627.4H947.4M947.1 618.4V616.3M943.6 616.3H950.6M950.4 607.0V604.9M946.9 604.9H953.9M953.6 595.7V593.6M950.1 593.6H957.1M956.8 584.9V582.8M953.3 582.8H960.3M960.0 575.0V572.9M956.5 572.9H963.5M963.3 566.0V563.9M959.8 563.9H966.8M966.5 557.8V555.7M963.0 555.7H970.0M969.7 549.8V547.7M966.2 547.7H973.2M973.0 541.8V539.7M969.5 539.7H976.5M976.2 534.1V532.0M972.7 532.0H979.7M979.4 526.9V524.8M975.9 524.8H982.9M982.7 520.4V518.3M979.2 518.3H986.2M985.9 514.8V512.7M982.4 512.7H989.4M989.1 510.0V507.9M985.6 507.9H992.6M992.3 506.0V503.9M988.8 503.9H995.8M995.6 502.8V500.7M992.1 500.7H999.1M998.8 500.2V498.1M995.3 498.1H1002.3M1002.0 498.3V496.2M998.5 496.2H1005.5M1005.3 497.1V495.0M1001.8 495.0H1008.8M1008.5 496.4V494.3M1005.0 494.3H1012.0M1011.7 496.3V494.2M1008.2 494.2H1015.2M1015.0 496.8V494.7M1011.5 494.7H1018.5M1018.2 497.7V495.6M1014.7 495.6H1021.7M1021.4 499.1V497.0M1017.9 497.0H1024.9M1024.6 501.0V498.9M1021.1 498.9H1028.1M1027.9 503.2V501.1M1024.4 501.1H1031.4M1031.1 505.8V503.7M1027.6 503.7H1034.6M1034.3 508.7V506.6M1030.8 506.6H1037.8M1037.6 511.8V509.7M1034.1 509.7H1041.1M1040.8 515.3V513.2M1037.3 513.2H1044.3M1044.0 518.9V516.8M1040.5 516.8H1047.5M1047.3 522.8V520.7M1043.8 520.7H1050.8M1050.5 526.7V524.6M1047.0 524.6H1054.0M1053.7 530.8V528.7M1050.2 528.7H1057.2M1056.9 534.9V532.8M1053.4 532.8H1060.4M1060.2 539.1V537.0M1056.7 537.0H1063.7M1063.4 543.3V541.2M1059.9 541.2H1066.9M1066.6 547.5V545.4M1063.1 545.4H1070.1M1069.9 551.6V549.5M1066.4 549.5H1073.4M1073.1 555.7V553.6M1069.6 553.6H1076.6M1076.3 559.8V557.7M1072.8 557.7H1079.8M1079.6 563.7V561.6M1076.1 561.6H1083.1M1082.8 567.6V565.5M1079.3 565.5H1086.3M1086.0 571.3V569.2M1082.5 569.2H1089.5M1089.2 575.0V572.9M1085.7 572.9H1092.7M1092.5 578.5V576.4M1089.0 576.4H1096.0M1095.7 581.8V579.7M1092.2 579.7H1099.2M1098.9 585.0V582.9M1095.4 582.9H1102.4M1102.2 588.0V585.9M1098.7 585.9H1105.7M1105.4 590.8V588.7M1101.9 588.7H1108.9M1108.6 593.4V591.3M1105.1 591.3H1112.1M1111.9 595.9V593.8M1108.4 593.8H1115.4M1115.1 598.1V596.0M1111.6 596.0H1118.6M1118.3 600.2V598.1M1114.8 598.1H1121.8M1121.5 602.1V600.0M1118.0 600.0H1125.0M1124.8 603.9V601.8M1121.3 601.8H1128.3M1128.0 605.4V603.3M1124.5 603.3H1131.5M1131.2 606.8V604.7M1127.7 604.7H1134.7M1134.5 608.0V605.9M1131.0 605.9H1138.0M1137.7 609.0V606.9M1134.2 606.9H1141.2M1140.9 609.8V607.7M1137.4 607.7H1144.4M1144.2 610.4V608.3M1140.7 608.3H1147.7M1147.4 610.9V608.8M1143.9 608.8H1150.9M1150.6 611.3V609.2M1147.1 609.2H1154.1M1153.8 611.4V609.3M1150.3 609.3H1157.3M1157.1 611.5V609.4M1153.6 609.4H1160.6M1160.3 611.4V609.3M1156.8 609.3H1163.8M1163.5 611.1V609.0M1160.0 609.0H1167.0M1166.8 610.7V608.6M1163.3 608.6H1170.3M1170.0 610.2V608.1M1166.5 608.1H1173.5M1173.2 609.6V607.5M1169.7 607.5H1176.7M1176.5 608.8V606.7M1173.0 606.7H1180.0M1179.7 607.9V605.8M1176.2 605.8H1183.2M1182.9 607.0V604.9M1179.4 604.9H1186.4M1186.1 605.9V603.8M1182.6 603.8H1189.6M1189.4 604.7V602.6M1185.9 602.6H1192.9M1192.6 603.4V601.3M1189.1 601.3H1196.1M1195.8 602.1V600.0M1192.3 600.0H1199.3M1199.1 600.6V598.5M1195.6 598.5H1202.6M1202.3 599.1V597.0M1198.8 597.0H1205.8M1205.5 597.5V595.4M1202.0 595.4H1209.0M1208.8 595.9V593.8M1205.3 593.8H1212.3M1212.0 594.2V592.1M1208.5 592.1H1215.5M1215.2 592.5V590.4M1211.7 590.4H1218.7M1218.4 590.8V588.7M1214.9 588.7H1221.9M1221.7 589.1V587.0M1218.2 587.0H1225.2M1224.9 587.4V585.3M1221.4 585.3H1228.4M1228.1 585.8V583.7M1224.6 583.7H1231.6M1231.4 584.2V582.1M1227.9 582.1H1234.9M1234.6 582.7V580.6M1231.1 580.6H1238.1M1237.8 581.3V579.2M1234.3 579.2H1241.3M1241.1 580.0V577.9M1237.6 577.9H1244.6M1244.3 578.8V576.7M1240.8 576.7H1247.8M1247.5 577.7V575.6M1244.0 575.6H1251.0M1250.7 576.7V574.6M1247.2 574.6H1254.2M1254.0 575.9V573.8M1250.5 573.8H1257.5M1257.2 575.3V573.2M1253.7 573.2H1260.7" stroke="#848484" stroke-width="1.5" fill="none"/><path d="M934.2 660.7 L935.8 655.7 L937.4 650.7 L939.0 645.6 L940.6 640.4 L942.2 635.1 L943.8 629.8 L945.4 624.3 L947.0 618.8 L948.6 613.2 L950.2 607.5 L951.8 601.9 L953.4 596.3 L955.0 590.8 L956.6 585.6 L958.2 580.5 L959.8 575.7 L961.4 571.1 L963.0 566.8 L964.6 562.6 L966.2 558.5 L967.8 554.5 L969.4 550.6 L971.0 546.7 L972.6 542.7 L974.2 538.8 L975.8 535.0 L977.4 531.3 L979.0 527.8 L980.6 524.4 L982.2 521.3 L983.8 518.3 L985.4 515.6 L987.0 513.1 L988.6 510.7 L990.2 508.6 L991.8 506.6 L993.4 504.9 L995.0 503.3 L996.6 501.9 L998.2 500.6 L999.8 499.5 L1001.4 498.6 L1003.0 497.9 L1004.6 497.3 L1006.2 496.8 L1007.8 496.5 L1009.4 496.3 L1011.0 496.3 L1012.6 496.4 L1014.2 496.6 L1015.8 497.0 L1017.4 497.5 L1019.0 498.0 L1020.6 498.7 L1022.2 499.5 L1023.8 500.4 L1025.4 501.5 L1027.0 502.5 L1028.6 503.7 L1030.2 505.0 L1031.8 506.4 L1033.4 507.8 L1035.0 509.3 L1036.6 510.9 L1038.2 512.5 L1039.8 514.2 L1041.4 516.0 L1043.0 517.8 L1044.6 519.6 L1046.2 521.5 L1047.8 523.4 L1049.4 525.4 L1051.0 527.4 L1052.6 529.4 L1054.2 531.4 L1055.8 533.5 L1057.4 535.5 L1059.0 537.6 L1060.6 539.7 L1062.2 541.8 L1063.8 543.8 L1065.4 545.9 L1067.0 548.0 L1068.6 550.0 L1070.2 552.1 L1071.8 554.1 L1073.4 556.1 L1075.0 558.1 L1076.6 560.1 L1078.2 562.1 L1079.8 564.0 L1081.4 565.9 L1083.0 567.8 L1084.6 569.7 L1086.2 571.5 L1087.8 573.4 L1089.4 575.1 L1091.0 576.9 L1092.6 578.6 L1094.2 580.3 L1095.8 581.9 L1097.4 583.5 L1099.0 585.0 L1100.6 586.5 L1102.2 588.0 L1103.8 589.4 L1105.4 590.8 L1107.0 592.1 L1108.6 593.4 L1110.2 594.6 L1111.8 595.8 L1113.4 597.0 L1115.0 598.1 L1116.6 599.1 L1118.2 600.2 L1119.8 601.1 L1121.4 602.1 L1123.0 603.0 L1124.6 603.8 L1126.2 604.6 L1127.8 605.3 L1129.4 606.0 L1131.0 606.7 L1132.6 607.3 L1134.2 607.9 L1135.8 608.4 L1137.4 608.9 L1139.0 609.3 L1140.6 609.7 L1142.2 610.1 L1143.8 610.4 L1145.4 610.6 L1147.0 610.9 L1148.6 611.1 L1150.2 611.2 L1151.8 611.3 L1153.4 611.4 L1155.0 611.5 L1156.6 611.5 L1158.2 611.4 L1159.8 611.4 L1161.4 611.3 L1163.0 611.2 L1164.6 611.0 L1166.2 610.8 L1167.8 610.6 L1169.4 610.3 L1171.0 610.0 L1172.6 609.7 L1174.2 609.4 L1175.8 609.0 L1177.4 608.6 L1179.0 608.1 L1180.6 607.7 L1182.2 607.2 L1183.8 606.7 L1185.4 606.1 L1187.0 605.6 L1188.6 605.0 L1190.2 604.4 L1191.8 603.7 L1193.4 603.1 L1195.0 602.4 L1196.6 601.7 L1198.2 601.0 L1199.8 600.3 L1201.4 599.5 L1203.0 598.7 L1204.6 598.0 L1206.2 597.2 L1207.8 596.4 L1209.4 595.5 L1211.0 594.7 L1212.6 593.9 L1214.2 593.0 L1215.8 592.2 L1217.4 591.3 L1219.0 590.5 L1220.6 589.7 L1222.2 588.8 L1223.8 588.0 L1225.4 587.2 L1227.0 586.4 L1228.6 585.6 L1230.2 584.8 L1231.8 584.0 L1233.4 583.3 L1235.0 582.5 L1236.6 581.8 L1238.2 581.1 L1239.8 580.5 L1241.4 579.8 L1243.0 579.2 L1244.6 578.6 L1246.2 578.1 L1247.8 577.6 L1249.4 577.1 L1251.0 576.7 L1252.6 576.3 L1254.2 575.9 L1255.8 575.6 L1257.4 575.3" stroke="#848484" stroke-width="2.7" fill="none" stroke-linecap="round" stroke-linejoin="round"/>
<path d="M934.3 466.2V698.1H1258.0" stroke="#111" stroke-width="1.5" fill="none"/>
<path d="M929.8 466.9H934.3M929.8 524.7H934.3M929.8 582.5H934.3M929.8 640.3H934.3M929.8 698.1H934.3M934.3 698.1V702.6M1015.0 698.1V702.6M1095.8 698.1V702.6M1176.5 698.1V702.6M1257.3 698.1V702.6" stroke="#000" stroke-width="1.3" fill="none"/>
<text transform="translate(905.35 472.14) scale(0.980 1)" font-size="17.3">0.4</text>
<text transform="translate(905.91 529.94) scale(0.980 1)" font-size="17.3">0.2</text>
<text transform="translate(905.91 587.74) scale(0.980 1)" font-size="17.3">0.0</text>
<text transform="translate(900.26 645.54) scale(0.980 1)" font-size="17.3">-0.2</text>
<text transform="translate(899.7 703.34) scale(0.980 1)" font-size="17.3">-0.4</text>
<text transform="translate(917.9 718.34) scale(0.980 1)" font-size="17.3">0.10</text>
<text transform="translate(998.56 718.34) scale(0.980 1)" font-size="17.3">0.15</text>
<text transform="translate(1079.4 718.34) scale(0.980 1)" font-size="17.3">0.20</text>
<text transform="translate(1160.06 718.34) scale(0.980 1)" font-size="17.3">0.25</text>
<text transform="translate(1240.9 718.34) scale(0.980 1)" font-size="17.3">0.30</text>
<text transform="translate(1063.94 732.57) scale(0.980 1)" font-size="17.3">Time (s)</text>
<text transform="translate(896 681.3) rotate(-90) scale(1.010 1)" font-size="18.3">Cross correlation value</text>
<path d="M1141 480.5H1154.8" stroke="#000" stroke-width="3.8" stroke-linecap="round" fill="none"/>
<path d="M1140.8 498.2H1154.9" stroke="#808080" stroke-width="2.6" stroke-linecap="round" fill="none"/>
<text transform="translate(1163.07 486.17) scale(0.980 1)" font-size="17.3">Before VNS</text>
<text transform="translate(1163.35 503.87) scale(0.980 1)" font-size="17.3">After VNS</text>
<rect x="1367.6" y="596.4" width="76" height="104.6" fill="#000"/>
<rect x="1479.45" y="528.5" width="73.6" height="172.5" fill="#828282" stroke="#000" stroke-width="1.9"/>
<path d="M1405.6 596.42V593M1387.2 593H1423.8" stroke="#000" stroke-width="1.8" stroke-linecap="round" fill="none"/>
<path d="M1516.2 528.1525V524.8M1497.8 524.8H1534.6" stroke="#000" stroke-width="1.8" stroke-linecap="round" fill="none"/>
<path d="M1350.1 467.90000000000003V701.0H1572.0" stroke="#111" stroke-width="1.6" fill="none"/>
<path d="M1346.1 468.6H1350.1M1346.1 526.7H1350.1M1346.1 584.8H1350.1M1346.1 642.9H1350.1M1346.1 701.0H1350.1M1405.7 701.0V705.5M1516.5 701.0V705.5" stroke="#000" stroke-width="1.3" fill="none"/>
<text transform="translate(1320.8 474.08) scale(0.980 1)" font-size="17.7">0.4</text>
<text transform="translate(1321.33 532.18) scale(0.980 1)" font-size="17.7">0.3</text>
<text transform="translate(1321.38 590.28) scale(0.980 1)" font-size="17.7">0.2</text>
<text transform="translate(1321.15 648.38) scale(0.980 1)" font-size="17.7">0.1</text>
<text transform="translate(1321.38 706.48) scale(0.980 1)" font-size="17.7">0.0</text>
<text transform="translate(1357.85 721.06) scale(0.990 1)" font-size="17.4">Before VNS</text>
<text transform="translate(1476.12 721.06) scale(0.990 1)" font-size="17.4">After VNS</text>
<text transform="translate(1497.83 517.25) scale(1.040 1)" font-size="26.5">***</text>
<text transform="translate(1302.9 684.42) rotate(-90) scale(1.010 1)" font-size="18.5">Cross correlation value</text>
</svg></body></html>
